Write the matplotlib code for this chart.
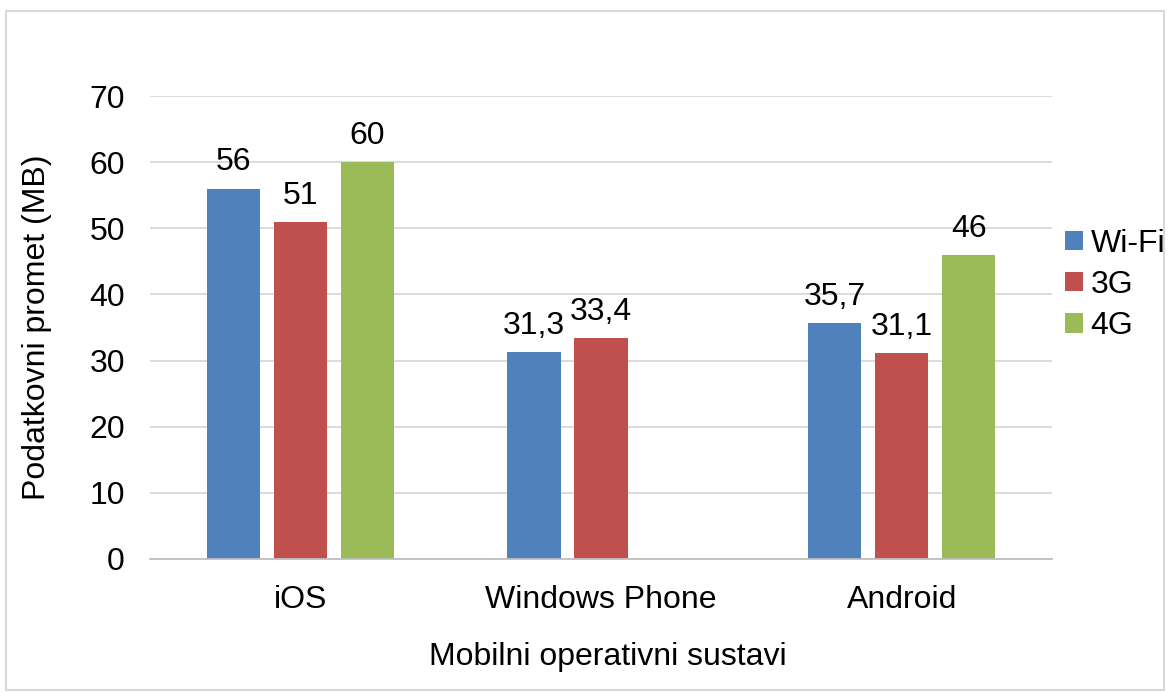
import numpy as np
import matplotlib
matplotlib.use("Agg")
import matplotlib.pyplot as plt
from matplotlib.patches import Rectangle

plt.rcParams["font.family"] = ["Liberation Sans", "DejaVu Sans"]

categories = ["iOS", "Windows Phone", "Android"]
series = ["Wi-Fi", "3G", "4G"]
wifi = [56, 31.3, 35.7]
g3 = [51, 33.4, 31.1]
g4 = [60, np.nan, 46]
colors = ["#4F81BD", "#C0504D", "#9BBB59"]

FS = 23

fig = plt.figure(figsize=(11.7, 6.97), dpi=100)
fig.patches.append(Rectangle((6 / 1170, 1 - 690 / 697), 1158 / 1170, 679 / 697,
                             transform=fig.transFigure, fill=False,
                             edgecolor="#D9D9D9", linewidth=1.5))
ax = fig.add_axes([150 / 1170, 138 / 697, 902 / 1170, 463 / 697])

x = np.arange(len(categories))
width = 0.177
step = 0.223
for i, (name, vals) in enumerate(zip(series, [wifi, g3, g4])):
    pos = x + (i - 1) * step
    ax.bar(pos, vals, width, color=colors[i], label=name, zorder=3)
    for p, v in zip(pos, vals):
        if np.isnan(v):
            continue
        txt = f"{v:g}".replace(".", ",")
        ax.annotate(txt, (p, v), xytext=(0, 8), textcoords="offset points",
                    ha="center", va="bottom", fontsize=FS)

ax.set_xlim(-0.5, 2.5)
ax.set_ylim(0, 70)
ax.set_yticks(range(0, 71, 10))
ax.set_xticks(x)
ax.set_xticklabels(categories)
ax.tick_params(axis="both", length=0, labelsize=FS)
ax.tick_params(axis="y", pad=18)
ax.tick_params(axis="x", pad=19)
ax.grid(axis="y", color="#D9D9D9", linewidth=1.3, zorder=0)
for s in ["top", "right", "left"]:
    ax.spines[s].set_visible(False)
ax.spines["bottom"].set_color("#BFBFBF")
ax.spines["bottom"].set_linewidth(1.3)
ax.spines["bottom"].set_zorder(4)

fig.text(37 / 1170, 1 - 327 / 697, "Podatkovni promet (MB)", rotation=90,
         ha="center", va="center", fontsize=FS)
fig.text(608 / 1170, 1 - 657 / 697, "Mobilni operativni sustavi",
         ha="center", va="center", fontsize=FS)

fig.legend(loc="center left", bbox_to_anchor=(1065 / 1170, 1 - 285 / 697),
           frameon=False, fontsize=FS, handlelength=0.55, handleheight=0.55,
           handletextpad=0.25, labelspacing=0.35, borderaxespad=0, borderpad=0)

fig.savefig("out.png", dpi=100)
